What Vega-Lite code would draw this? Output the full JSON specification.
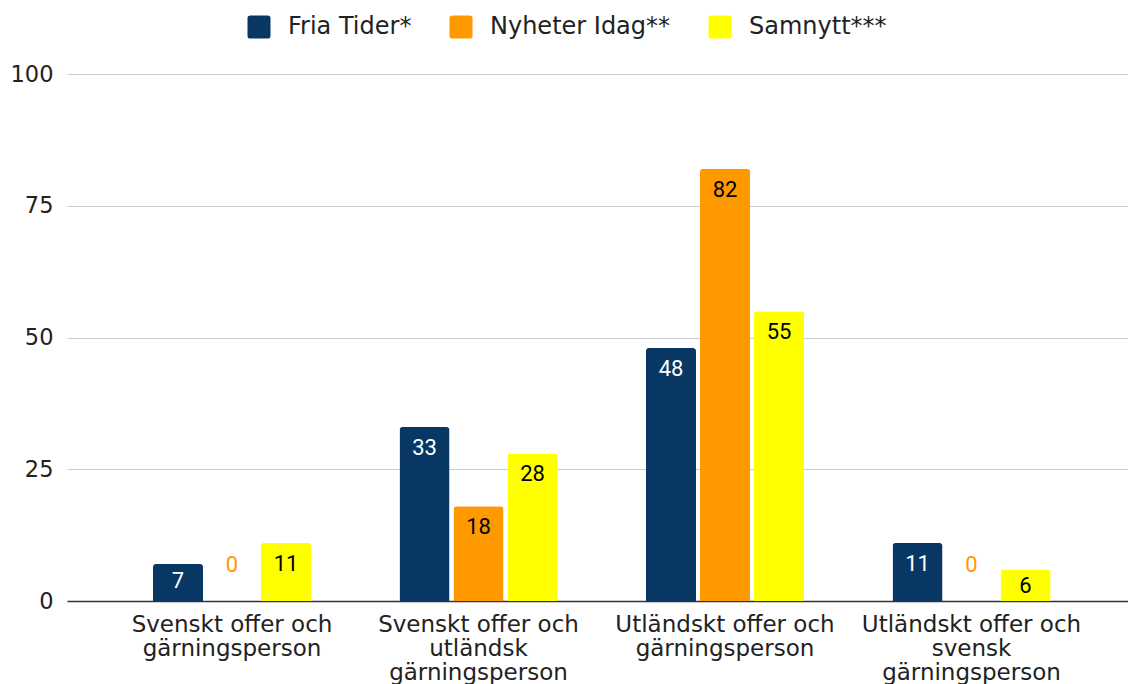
{
  "$schema": "https://vega.github.io/schema/vega-lite/v6.json",
  "autosize": {"type": "none"},
  "padding": {"left": 67, "top": 74, "right": 0, "bottom": 83},
  "width": 1061,
  "height": 527,
  "background": "white",
  "config": {"view": {"stroke": null}},
  "data": {
    "values": [
      {"category": "Svenskt offer och gärningsperson", "series": "Fria Tider*", "value": 7},
      {"category": "Svenskt offer och gärningsperson", "series": "Nyheter Idag**", "value": 0},
      {"category": "Svenskt offer och gärningsperson", "series": "Samnytt***", "value": 11},
      {"category": "Svenskt offer och utländsk gärningsperson", "series": "Fria Tider*", "value": 33},
      {"category": "Svenskt offer och utländsk gärningsperson", "series": "Nyheter Idag**", "value": 18},
      {"category": "Svenskt offer och utländsk gärningsperson", "series": "Samnytt***", "value": 28},
      {"category": "Utländskt offer och gärningsperson", "series": "Fria Tider*", "value": 48},
      {"category": "Utländskt offer och gärningsperson", "series": "Nyheter Idag**", "value": 82},
      {"category": "Utländskt offer och gärningsperson", "series": "Samnytt***", "value": 55},
      {"category": "Utländskt offer och svensk gärningsperson", "series": "Fria Tider*", "value": 11},
      {"category": "Utländskt offer och svensk gärningsperson", "series": "Nyheter Idag**", "value": 0},
      {"category": "Utländskt offer och svensk gärningsperson", "series": "Samnytt***", "value": 6}
    ]
  },
  "encoding": {
    "x": {
      "field": "category",
      "type": "nominal",
      "sort": null,
      "scale": {"paddingInner": 0.359, "paddingOuter": 0.3316, "align": 0.526},
      "axis": {
        "title": null,
        "labelAngle": 0,
        "labelFont": "DejaVu Sans",
        "labelFontSize": 23,
        "labelColor": "#222222",
        "labelLineHeight": 24,
        "labelPadding": 12,
        "labelLimit": 0,
        "ticks": false,
        "domainColor": "#333333",
        "domainWidth": 1.5,
        "labelExpr": "split(replace(replace(datum.label, ' och ', ' och|'), 'sk g', 'sk|g'), '|')"
      }
    },
    "xOffset": {
      "field": "series",
      "type": "nominal",
      "sort": ["Fria Tider*", "Nyheter Idag**", "Samnytt***"],
      "scale": {"paddingInner": 0.074, "paddingOuter": 0}
    },
    "y": {
      "field": "value",
      "type": "quantitative",
      "scale": {"domain": [0, 100], "nice": false},
      "axis": {
        "title": null,
        "values": [0, 25, 50, 75, 100],
        "labelFont": "DejaVu Sans",
        "labelFontSize": 22.5,
        "labelColor": "#222222",
        "labelPadding": 14,
        "ticks": false,
        "domain": false,
        "gridColor": "#cccccc",
        "gridWidth": 1.2
      }
    }
  },
  "layer": [
    {
      "mark": {"type": "bar", "cornerRadiusTopLeft": 3, "cornerRadiusTopRight": 3},
      "encoding": {
        "color": {
          "field": "series",
          "type": "nominal",
          "sort": ["Fria Tider*", "Nyheter Idag**", "Samnytt***"],
          "scale": {"domain": ["Fria Tider*", "Nyheter Idag**", "Samnytt***"], "range": ["#083763", "#ff9900", "#ffff00"]},
          "legend": {
            "title": null,
            "orient": "none",
            "direction": "horizontal",
            "legendX": 180,
            "legendY": -59,
            "symbolType": "M -1 -0.75 Q -1 -1 -0.75 -1 L 0.75 -1 Q 1 -1 1 -0.75 L 1 0.75 Q 1 1 0.75 1 L -0.75 1 Q -1 1 -1 0.75 Z",
            "symbolSize": 529,
            "symbolStrokeWidth": 0,
            "labelFont": "DejaVu Sans",
            "labelFontSize": 24,
            "labelColor": "#222222",
            "labelOffset": 17,
            "columnPadding": 37,
            "labelLimit": 0
          }
        }
      }
    },
    {
      "transform": [{"filter": "datum.value >= 10"}],
      "mark": {"type": "text", "font": "Roboto", "fontSize": 22, "baseline": "middle", "dy": 21},
      "encoding": {
        "text": {"field": "value", "type": "quantitative"},
        "color": {"condition": {"test": "datum.series === 'Fria Tider*'", "value": "#ffffff"}, "value": "#000000"}
      }
    },
    {
      "transform": [{"filter": "datum.value > 0 && datum.value < 10"}],
      "mark": {"type": "text", "font": "Roboto", "fontSize": 22, "baseline": "middle", "dy": 17},
      "encoding": {
        "text": {"field": "value", "type": "quantitative"},
        "color": {"condition": {"test": "datum.series === 'Fria Tider*'", "value": "#ffffff"}, "value": "#000000"}
      }
    },
    {
      "transform": [{"filter": "datum.value == 0"}],
      "mark": {"type": "text", "font": "Roboto", "fontSize": 22, "baseline": "middle", "dy": -36, "color": "#ff9900"},
      "encoding": {
        "text": {"field": "value", "type": "quantitative"}
      }
    }
  ]
}
